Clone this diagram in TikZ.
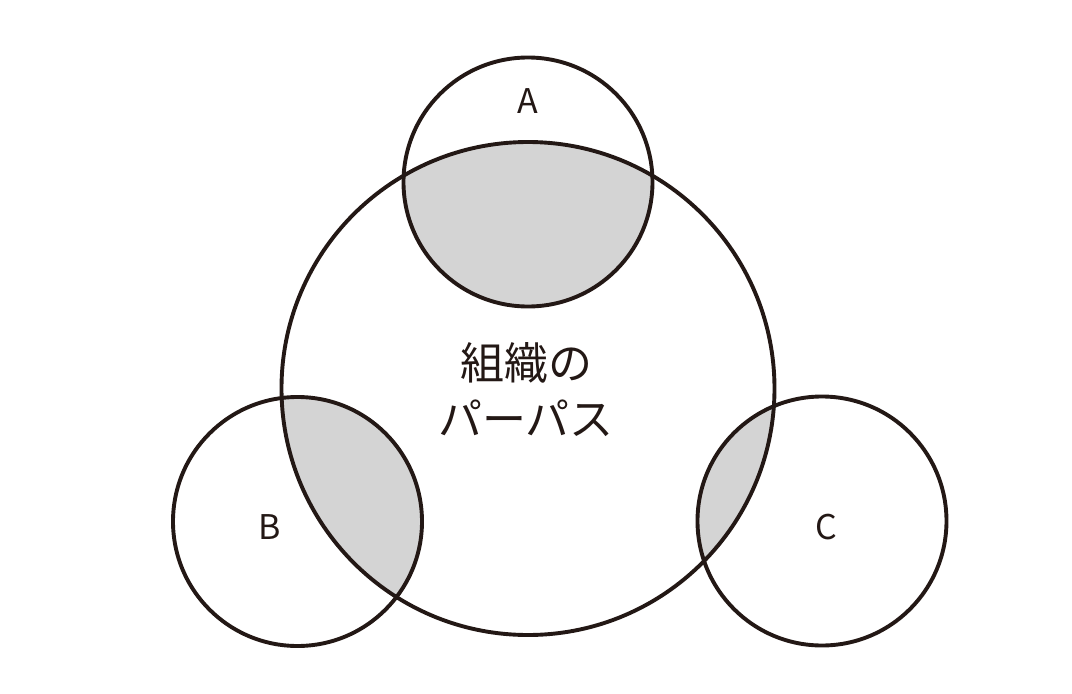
\documentclass[tikz,border=0pt]{standalone}
\usepackage{fontspec}
\setmainfont{Noto Sans CJK JP}
\begin{document}
\begin{tikzpicture}[x=1pt,y=-1pt,
  ring/.style={circle, draw=linecol, line width=3.9pt, inner sep=0pt, outer sep=0pt},
  lbl/.style={font=\fontsize{34}{40}\selectfont, text=linecol},
]
\definecolor{linecol}{HTML}{231815}
\definecolor{lapgray}{HTML}{D4D4D4}
\useasboundingbox (0,0) rectangle (1072,694);
% shaded intersections
\begin{scope}
  \clip (528,388.5) circle (246.5);
  \fill[lapgray] (528,182) circle (124.5);
  \fill[lapgray] (297.5,521.5) circle (124.5);
  \fill[lapgray] (822,521) circle (124.5);
\end{scope}
\node[ring, minimum size=493pt] (big) at (528,388.5) {};
\node[ring, minimum size=249pt] (a) at (528,182) {};
\node[ring, minimum size=249pt] (b) at (297.5,521.5) {};
\node[ring, minimum size=249pt] (c) at (822,521) {};
\node[lbl] (la) at (528,101) {A};
\node[lbl] (lb) at (270,527) {B};
\node[lbl] (lc) at (826,527) {C};
\node[font=\fontsize{44}{56}\selectfont, text=linecol, align=center] (t) at (526,390) {組織の\\パーパス};
\end{tikzpicture}
\end{document}
